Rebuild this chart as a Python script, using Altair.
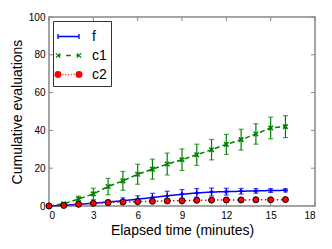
import altair as alt
import pandas as pd

t = list(range(17))
f_mean = [0, 0.4, 0.9, 1.5, 2.1, 2.8, 3.6, 4.5, 5.4, 6.2, 6.9, 7.4, 7.6, 7.8, 8.0, 8.2, 8.3]
f_err = [0, 0.3, 0.5, 0.7, 1.0, 1.5, 1.8, 2.2, 2.4, 2.5, 2.3, 2.1, 1.8, 1.5, 1.2, 1.0, 0.8]
c1_mean = [0, 1.2, 3.7, 6.4, 10.3, 13.3, 16.8, 19.5, 22.2, 24.5, 27.1, 29.8, 32.6, 35.1, 38.1, 41.3, 42.0]
c1_err = [0, 0.5, 1.5, 3.0, 4.3, 5.0, 5.3, 5.3, 5.8, 5.7, 5.6, 5.4, 5.3, 5.5, 5.4, 5.7, 5.8]
c2_mean = [0, 0.3, 0.9, 1.4, 1.8, 2.1, 2.3, 2.5, 2.7, 2.8, 3.0, 3.1, 3.2, 3.2, 3.3, 3.3, 3.4]
c2_err = [0, 0.1, 0.2, 0.3, 0.3, 0.3, 0.3, 0.3, 0.3, 0.3, 0.3, 0.3, 0.3, 0.3, 0.3, 0.3, 0.3]

series = ["f", "c1", "c2"]
colors = ["#0000ff", "#008000", "#ff0000"]
dashes = [[1, 0], [5, 3], [1.5, 2.5]]
x_ticks = [0, 3, 6, 9, 12, 15, 18]
y_ticks = [0, 20, 40, 60, 80, 100]

rows = []
for name, m, e in [("f", f_mean, f_err), ("c1", c1_mean, c1_err), ("c2", c2_mean, c2_err)]:
    for ti, mi, ei in zip(t, m, e):
        rows.append({"series": name, "t": ti, "mean": mi, "lo": mi - ei, "hi": mi + ei})
df = pd.DataFrame(rows)

FONT = "Liberation Sans"
FRAME = "#888888"
W, H = 266, 189

xs = alt.Scale(domain=[0, 18], nice=False, zero=False)
ys = alt.Scale(domain=[0, 100], nice=False)
AX = alt.Axis(values=x_ticks, title="Elapsed time (minutes)", labelOverlap=False)
AY = alt.Axis(values=y_ticks, title="Cumulative evaluations", labelOverlap=False)


def xq(field):
    return alt.X(field, scale=xs, axis=AX)


def yq(field):
    return alt.Y(field, scale=ys, axis=AY)


base = alt.Chart(df)
layers = []

# inward ticks on all four sides
xt = pd.DataFrame({"tx": x_ticks})
yt = pd.DataFrame({"ty": y_ticks})
tk = dict(color=FRAME, strokeWidth=1)
layers.append(alt.Chart(xt).mark_rule(**tk).encode(x=xq("tx:Q"), y=alt.value(H), y2=alt.value(H - 4)))
layers.append(alt.Chart(xt).mark_rule(**tk).encode(x=xq("tx:Q"), y=alt.value(0), y2=alt.value(4)))
layers.append(alt.Chart(yt).mark_rule(**tk).encode(y=yq("ty:Q"), x=alt.value(0), x2=alt.value(4)))
layers.append(alt.Chart(yt).mark_rule(**tk).encode(y=yq("ty:Q"), x=alt.value(W), x2=alt.value(W - 4)))

for name, c, d in zip(series, colors, dashes):
    sub = base.transform_filter(alt.datum.series == name)
    line = sub.mark_line(strokeWidth=1.5, color=c, strokeDash=d).encode(x=xq("t:Q"), y=yq("mean:Q"), order="t:Q")
    err = sub.mark_rule(strokeWidth=1.2, color=c).encode(x=xq("t:Q"), y=yq("lo:Q"), y2="hi:Q")
    capl = sub.mark_tick(orient="horizontal", size=5, thickness=1.2, color=c).encode(x=xq("t:Q"), y=yq("lo:Q"))
    caph = sub.mark_tick(orient="horizontal", size=5, thickness=1.2, color=c).encode(x=xq("t:Q"), y=yq("hi:Q"))
    layers += [line, err, capl, caph]

plus_path = "M-1,0H1M0,-1V1"
x_path = "M-1,-1L1,1M-1,1L1,-1"
layers.append(base.transform_filter(alt.datum.series == "f").mark_point(
    shape=plus_path, filled=False, size=22, strokeWidth=1.6, color=colors[0], opacity=1
).encode(x=xq("t:Q"), y=yq("mean:Q")))
layers.append(base.transform_filter(alt.datum.series == "c1").mark_point(
    shape=x_path, filled=False, size=20, strokeWidth=1.6, color=colors[1], opacity=1
).encode(x=xq("t:Q"), y=yq("mean:Q")))
layers.append(base.transform_filter(alt.datum.series == "c2").mark_point(
    shape="circle", filled=True, size=36, fill=colors[2], stroke="black", strokeWidth=1, opacity=1
).encode(x=xq("t:Q"), y=yq("mean:Q")))

# legend glyphs: line plus markers
leg_f = "M-1,0H1M-1,-0.24V0.24M1,-0.24V0.24"
leg_c1 = ("M-1.2,-0.2L-0.8,0.2M-1.2,0.2L-0.8,-0.2M0.8,-0.2L1.2,0.2M0.8,0.2L1.2,-0.2"
          "M-0.22,0H0.22M-1,0H-0.75M0.75,0H1")
leg_c2 = ("M-0.73,0A0.27,0.27 0 1,0 -1.27,0A0.27,0.27 0 1,0 -0.73,0Z"
          "M1.27,0A0.27,0.27 0 1,0 0.73,0A0.27,0.27 0 1,0 1.27,0Z"
          "M-0.56,0h0.08M-0.3,0h0.08M-0.04,0h0.08M0.22,0h0.08M0.48,0h0.08")
legend = alt.Legend(
    title=None, orient="none", legendX=4, legendY=4, symbolSize=441,
    symbolStrokeWidth=1.3, symbolOpacity=1, labelFont=FONT, labelFontSize=14, labelColor="black",
    strokeColor="#333333", fillColor="white", padding=4, labelOffset=12, rowPadding=-4,
)
layers.append(base.mark_point(filled=True, opacity=0, size=1).encode(
    x=xq("t:Q"), y=yq("mean:Q"),
    shape=alt.Shape("series:N", scale=alt.Scale(domain=series, range=[leg_f, leg_c1, leg_c2]), legend=legend),
    fill=alt.Fill("series:N", scale=alt.Scale(domain=series, range=colors), legend=legend),
    stroke=alt.Stroke("series:N", scale=alt.Scale(domain=series, range=colors), legend=legend),
))

chart = alt.layer(*layers).properties(
    width=W, height=H,
    autosize=alt.AutoSizeParams(type="none"),
    padding={"left": 41, "top": 9, "right": 9, "bottom": 43},
).configure_view(
    stroke=FRAME, strokeWidth=1.5
).configure_axis(
    domain=False, ticks=False, grid=False, labelOverlap=False,
    labelFont=FONT, labelFontSize=10, labelColor="black", labelPadding=4,
    titleFont=FONT, titleFontSize=14, titleFontWeight="normal", titleColor="black",
).configure_axisX(titlePadding=3).configure_axisY(titlePadding=4)

chart.save("out.html", embed_options={"renderer": "svg", "actions": False})
